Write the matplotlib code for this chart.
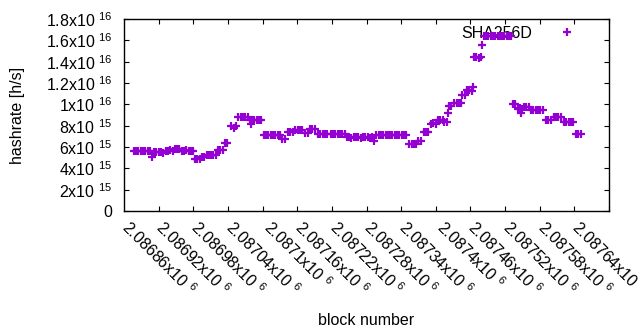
#!/usr/bin/env python3
import matplotlib
matplotlib.use("Agg")
import matplotlib.pyplot as plt

plt.rcParams["font.family"] = ["Liberation Sans", "DejaVu Sans"]
plt.rcParams["mathtext.default"] = "regular"
plt.rcParams["font.size"] = 11.5

# block numbers and hashrate estimates (units of 1e15 h/s)
blocks = [
    2086817, 2086821, 2086825, 2086829, 2086833, 2086837, 2086841, 2086845,
    2086848,
    2086852, 2086856, 2086860, 2086864,
    2086868, 2086872, 2086876, 2086880, 2086884,
    2086888, 2086892, 2086896,
    2086900, 2086904, 2086908, 2086912, 2086916, 2086920,
    2086923, 2086927, 2086931,
    2086935, 2086939,
    2086943, 2086947, 2086951, 2086955, 2086959,
    2086963, 2086967, 2086971,
    2086975, 2086979,
    2086986, 2086990, 2086994,
    2086998, 2087002, 2087006, 2087010, 2087014,
    2087018, 2087020, 2087022, 2087026, 2087030, 2087034, 2087038,
    2087042, 2087046, 2087050, 2087054, 2087058, 2087062, 2087066, 2087070,
    2087074, 2087078,
    2087084, 2087088, 2087092,
    2087097, 2087101, 2087105, 2087109,
    2087114, 2087118,
    2087122, 2087126, 2087130,
    2087136, 2087140, 2087144, 2087148, 2087152,
    2087158, 2087162, 2087166, 2087170, 2087174, 2087178, 2087182,
    2087186, 2087190, 2087194, 2087198, 2087202, 2087206, 2087210, 2087214,
    2087218, 2087222, 2087226, 2087230,
    2087233,
    2087237, 2087241, 2087245, 2087249, 2087253, 2087257, 2087261, 2087265,
    2087269, 2087273, 2087277, 2087281, 2087285, 2087289,
    2087294, 2087298, 2087302, 2087306,
    2087310, 2087314,
    2087319, 2087323, 2087327,
    2087332, 2087336, 2087340,
    2087344, 2087348, 2087352,
    2087355, 2087359,
    2087361,
    2087363, 2087367,
    2087372, 2087376, 2087380, 2087384,
    2087386, 2087390,
    2087394, 2087398, 2087402,
    2087404,
    2087406, 2087410, 2087414, 2087418,
    2087420,
    2087423, 2087427, 2087431, 2087435, 2087439, 2087443, 2087447, 2087451,
    2087455, 2087459, 2087463, 2087467, 2087471,
    2087474, 2087478,
    2087482, 2087486, 2087490,
    2087488,
    2087493, 2087497, 2087501,
    2087505, 2087509, 2087513, 2087517, 2087521, 2087525,
    2087531, 2087535, 2087539,
    2087544, 2087548, 2087552, 2087556,
    2087562, 2087566, 2087570, 2087574, 2087578,
    2087583, 2087587, 2087591,
]
hashrate_e15 = [
    5.62, 5.61, 5.63, 5.62, 5.60, 5.62, 5.63, 5.61,
    5.06,
    5.56, 5.55, 5.57, 5.56,
    5.40, 5.67, 5.66, 5.68, 5.67,
    5.81, 5.82, 5.80,
    5.67, 5.66, 5.68, 5.67, 5.66, 5.67,
    4.90, 4.91, 4.89,
    5.06, 5.07,
    5.28, 5.27, 5.29, 5.28, 5.28,
    5.72, 5.73, 5.71,
    6.38, 6.40,
    7.94, 7.75, 7.96,
    8.80, 8.81, 8.79, 8.80, 8.80,
    8.53, 8.20, 8.54, 8.52, 8.53, 8.54, 8.53,
    7.15, 7.16, 7.14, 7.15, 7.15, 7.16, 7.14, 7.15,
    6.75, 6.76,
    7.43, 7.44, 7.42,
    7.56, 7.57, 7.55, 7.56,
    7.33, 7.34,
    7.70, 7.72, 7.69,
    7.19, 7.20, 7.18, 7.19, 7.19,
    7.22, 7.21, 7.23, 7.22, 7.22, 7.21, 7.23,
    6.90, 6.91, 6.89, 6.90, 6.90, 6.91, 6.89, 6.90,
    6.90, 6.91, 6.89, 6.90,
    6.58,
    7.10, 7.11, 7.09, 7.10, 7.10, 7.11, 7.09, 7.10,
    7.10, 7.11, 7.09, 7.10, 7.10, 7.11,
    6.25, 6.26, 6.24, 6.25,
    6.58, 6.60,
    7.43, 7.44, 7.42,
    8.20, 8.21, 8.19,
    8.53, 8.54, 8.52,
    8.34, 8.35,
    9.16,
    9.84, 9.85,
    10.10, 10.11, 10.09, 10.10,
    10.90, 10.91,
    11.30, 11.31, 11.29,
    11.65,
    14.40, 14.41, 14.39, 14.40,
    15.56,
    16.40, 16.41, 16.39, 16.40, 16.40, 16.41, 16.39, 16.40,
    16.40, 16.41, 16.39, 16.40, 16.40,
    10.03, 10.04,
    9.60, 9.61, 9.59,
    9.20,
    9.78, 9.79, 9.77,
    9.47, 9.48, 9.46, 9.47, 9.47, 9.48,
    8.50, 8.51, 8.49,
    8.80, 8.81, 8.79, 8.80,
    8.37, 8.38, 8.36, 8.37, 8.37,
    7.19, 7.20, 7.18,
]

x_ticks = [2086860, 2086920, 2086980, 2087040, 2087100, 2087160, 2087220,
           2087280, 2087340, 2087400, 2087460, 2087520, 2087580, 2087640]
x_labels = ["2.08686x10 $^{6}$", "2.08692x10 $^{6}$", "2.08698x10 $^{6}$",
            "2.08704x10 $^{6}$", "2.0871x10 $^{6}$", "2.08716x10 $^{6}$",
            "2.08722x10 $^{6}$", "2.08728x10 $^{6}$", "2.08734x10 $^{6}$",
            "2.0874x10 $^{6}$", "2.08746x10 $^{6}$", "2.08752x10 $^{6}$",
            "2.08758x10 $^{6}$", "2.08764x10 $^{6}$"]
y_ticks = [0, 2e15, 4e15, 6e15, 8e15, 1e16, 1.2e16, 1.4e16, 1.6e16, 1.8e16]
y_labels = ["0", "2x10 $^{15}$", "4x10 $^{15}$", "6x10 $^{15}$", "8x10 $^{15}$",
            "1x10 $^{16}$", "1.2x10 $^{16}$", "1.4x10 $^{16}$", "1.6x10 $^{16}$",
            "1.8x10 $^{16}$"]

color = "#9400d3"

fig = plt.figure(figsize=(6.4, 3.3), dpi=100)
ax = fig.add_axes([124 / 640, 1 - 211 / 330, 485 / 640, 192 / 330])

ys = [v * 1e15 for v in hashrate_e15]
ax.plot(blocks, ys, linestyle="none", marker="+", markersize=5.5,
        markeredgewidth=1.6, color=color, label="SHA256D", zorder=3)

ax.set_xlim(2086800, 2087640)
ax.set_ylim(0, 1.8e16)
ax.set_xticks(x_ticks)
ax.set_xticklabels(x_labels)
ax.set_yticks(y_ticks)
ax.set_yticklabels(y_labels)
ax.tick_params(direction="in", length=3.3, width=0.8, top=True, right=True)
ax.tick_params(axis="x", rotation=-45, pad=5)
ax.tick_params(axis="y", pad=8.5)
for s in ax.spines.values():
    s.set_linewidth(1.0)

ax.set_xlabel("block number")
ax.xaxis.set_label_coords(0.5, -0.53)
ax.set_ylabel("hashrate [h/s]")
ax.yaxis.set_label_coords(-0.205, 0.5)

leg = ax.legend(loc="upper right", bbox_to_anchor=(0.979, 0.965), frameon=False,
                markerfirst=False, handlelength=4, handletextpad=0.15,
                borderpad=0, borderaxespad=0)
leg.set_zorder(1)

fig.savefig("out.png", dpi=100)
